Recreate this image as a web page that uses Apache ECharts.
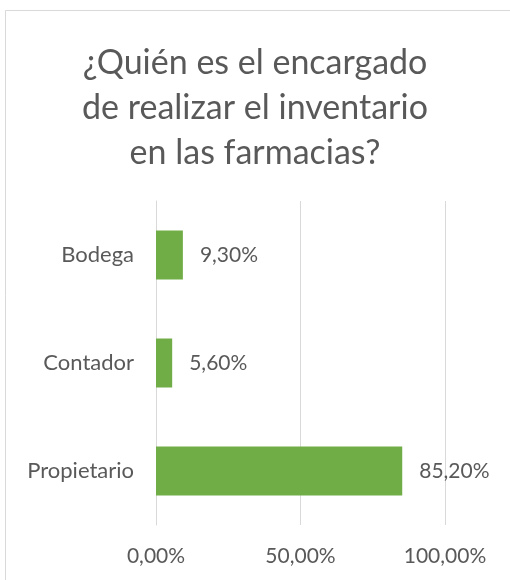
<!DOCTYPE html>
<html lang="es">
<head>
    <meta charset="UTF-8">
    <title>Inventario farmacias</title>
    <script src="https://cdn.jsdelivr.net/npm/echarts@6/dist/echarts.min.js"></script>
    <style>
        html, body { margin: 0; padding: 0; background: #fff; }
        #main { width: 510px; height: 580px; }
    </style>
</head>
<body>
    <div id="main"></div>
    <script>
        var categories = ['Propietario', 'Contador', 'Bodega'];
        var values = [85.2, 5.6, 9.3];
        var xTicks = [0, 50, 100];

        var textColor = '#595959';
        var gridColor = '#d9d9d9';
        var font = 'Lato';

        function pct(v) {
            return v.toFixed(2).replace('.', ',') + '%';
        }

        var chart = echarts.init(document.getElementById('main'));
        var option = {
            animation: false,
            backgroundColor: '#fff',
            title: {
                text: '¿Quién es el encargado\nde realizar el inventario\nen las farmacias?',
                left: 'center',
                top: 36,
                textStyle: {
                    color: textColor,
                    fontFamily: font,
                    fontWeight: 'normal',
                    fontSize: 34,
                    lineHeight: 45
                }
            },
            graphic: [{
                type: 'rect',
                shape: { x: 5.5, y: 10.5, width: 600, height: 700 },
                style: { fill: 'none', stroke: gridColor, lineWidth: 1 },
                silent: true
            }],
            grid: { left: 156, right: 65, top: 201, bottom: 55, containLabel: false },
            xAxis: {
                type: 'value',
                min: xTicks[0],
                max: xTicks[xTicks.length - 1],
                interval: 50,
                axisLine: { show: false },
                axisTick: { show: false },
                splitLine: { lineStyle: { color: gridColor, width: 1 } },
                axisLabel: {
                    color: textColor,
                    fontFamily: font,
                    fontSize: 21,
                    margin: 21,
                    formatter: function (v) { return pct(v); }
                }
            },
            yAxis: {
                type: 'category',
                data: categories,
                axisLine: { lineStyle: { color: gridColor, width: 1 } },
                axisTick: { length: 7, lineStyle: { color: gridColor } },
                axisLabel: {
                    color: textColor,
                    fontFamily: font,
                    fontSize: 22,
                    margin: 22
                }
            },
            series: [{
                type: 'bar',
                data: values,
                barWidth: 49,
                itemStyle: { color: '#70ad47' },
                label: {
                    show: true,
                    position: 'right',
                    distance: 17,
                    color: textColor,
                    fontFamily: font,
                    fontSize: 21,
                    formatter: function (p) { return pct(p.value); }
                }
            }]
        };
        chart.setOption(option);
    </script>
</body>
</html>
